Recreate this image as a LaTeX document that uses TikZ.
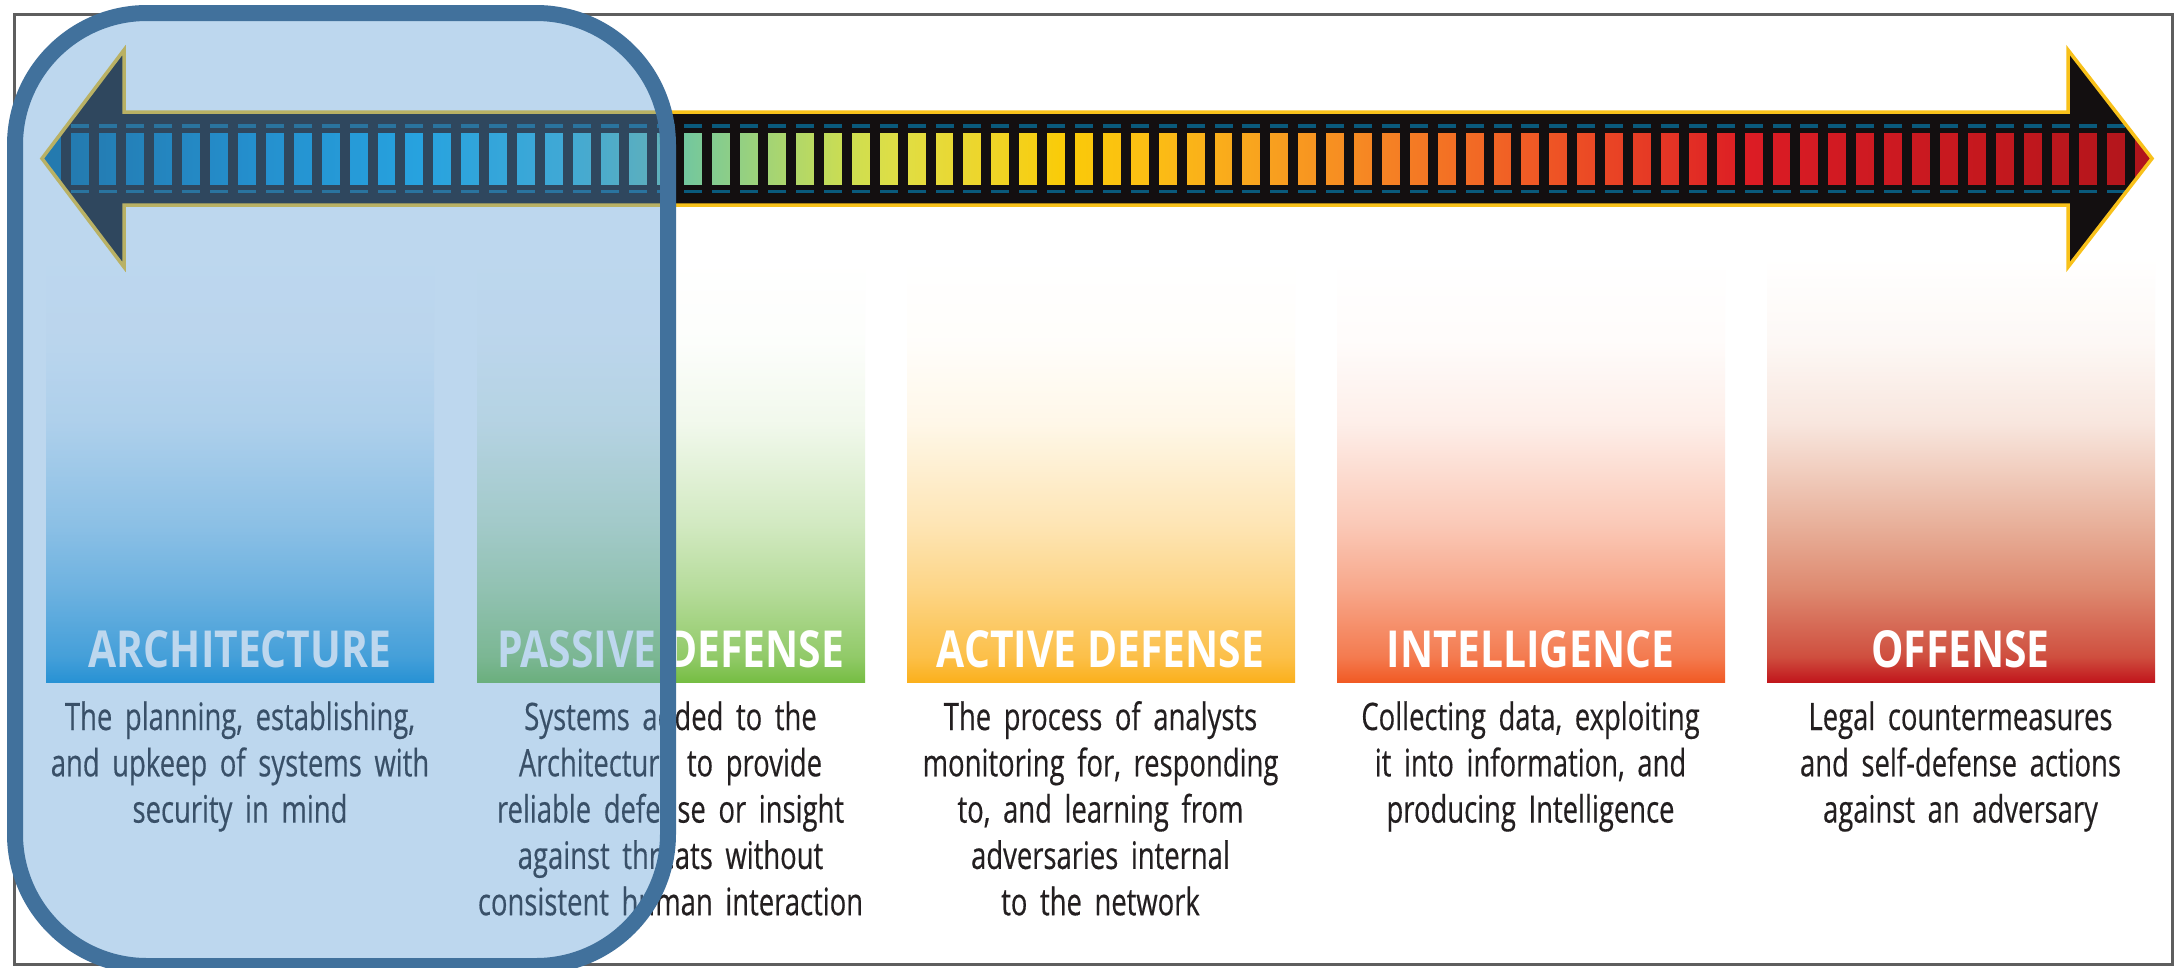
\documentclass[tikz,border=0pt]{standalone}
\usepackage{fontspec}
\newfontfamily\bodyfont{Open Sans}[FakeStretch=0.725,WordSpace=0.75,FakeBold=0.4]
\newfontfamily\headfont{Open Sans}[FakeStretch=0.8]

% general colours
\definecolor{arrowblack}{HTML}{130F10}
\definecolor{arrowgold}{HTML}{F8C11A}
\definecolor{dashblue}{HTML}{0A5A7C}
\definecolor{framegray}{HTML}{5E5E5E}
\definecolor{bodytext}{HTML}{231F20}
\definecolor{ovborder}{HTML}{41719C}
\definecolor{ovfill}{HTML}{5B9BD5}

% spectrum along the arrow
\definecolor{sp01}{RGB}{0,100,150}
\definecolor{sp02}{RGB}{0,102,152}
\definecolor{sp03}{RGB}{0,135,200}
\definecolor{sp04}{RGB}{5,168,230}
\definecolor{sp05}{RGB}{45,178,215}
\definecolor{sp06}{RGB}{90,188,178}
\definecolor{sp07}{RGB}{118,200,155}
\definecolor{sp08}{RGB}{164,212,116}
\definecolor{sp09}{RGB}{206,222,80}
\definecolor{sp10}{RGB}{224,222,68}
\definecolor{sp11}{RGB}{238,213,42}
\definecolor{sp12}{RGB}{250,203,8}
\definecolor{sp13}{RGB}{251,190,20}
\definecolor{sp14}{RGB}{249,165,30}
\definecolor{sp15}{RGB}{245,128,36}
\definecolor{sp16}{RGB}{240,90,37}
\definecolor{sp17}{RGB}{228,52,37}
\definecolor{sp18}{RGB}{220,28,36}
\definecolor{sp19}{RGB}{208,26,34}
\definecolor{sp20}{RGB}{196,24,30}
\definecolor{sp21}{RGB}{176,21,27}

\pgfdeclarehorizontalshading{spectrum}{100bp}{%
  color(0bp)=(sp01); color(25bp)=(sp01); color(25.66bp)=(sp02);
  color(29.93bp)=(sp03); color(33.95bp)=(sp04); color(37.27bp)=(sp05);
  color(39.28bp)=(sp06); color(40.35bp)=(sp07); color(42.24bp)=(sp08);
  color(44.14bp)=(sp09); color(45.32bp)=(sp10); color(47.34bp)=(sp11);
  color(49.16bp)=(sp12); color(51.24bp)=(sp13); color(53.66bp)=(sp14);
  color(56.98bp)=(sp15); color(60.27bp)=(sp16); color(63.56bp)=(sp17);
  color(65.45bp)=(sp18); color(67.82bp)=(sp19); color(71.14bp)=(sp20);
  color(75bp)=(sp21); color(100bp)=(sp21)}

% panel colours (bottom edge)
\definecolor{archB}{HTML}{058CD4}
\definecolor{passB}{HTML}{76BD43}
\definecolor{actB}{HTML}{FBB01C}
\definecolor{intB}{HTML}{F15A24}

% white-to-colour fade used by the panels
\newcommand\panelfade[2]{%
  \pgfdeclareverticalshading{#1}{100bp}{%
    color(0bp)=(#2); color(25bp)=(#2); color(28bp)=(#2!80!white);
    color(36bp)=(#2!53!white); color(43.5bp)=(#2!33!white);
    color(55.5bp)=(#2!10!white); color(65bp)=(#2!2!white);
    color(75bp)=(white); color(100bp)=(white)}}
\panelfade{archfade}{archB}
\panelfade{passfade}{passB}
\panelfade{actfade}{actB}
\panelfade{intfade}{intB}

\definecolor{of1}{HTML}{C1161C}
\definecolor{of2}{HTML}{CF4F3F}
\definecolor{of3}{HTML}{DE8A70}
\definecolor{of4}{HTML}{E8B09A}
\definecolor{of5}{HTML}{F1CEBF}
\definecolor{of6}{HTML}{F8E6DE}
\definecolor{of7}{HTML}{FDF8F5}
\pgfdeclareverticalshading{offfade}{100bp}{%
  color(0bp)=(of1); color(25bp)=(of1); color(28bp)=(of2);
  color(36bp)=(of3); color(43.5bp)=(of4); color(50bp)=(of5);
  color(55.5bp)=(of6); color(65bp)=(of7); color(75bp)=(white);
  color(100bp)=(white)}

\begin{document}
\begin{tikzpicture}[x=1pt,y=-1pt,
  frameline/.style={draw=framegray,line width=2.5},
  headlabel/.style={font=\headfont\bfseries\fontsize{51}{57}\selectfont,
    text=white,anchor=base,inner sep=0pt},
  bodylabel/.style={font=\bodyfont\fontsize{37.8}{46.3}\selectfont,
    text=bodytext,align=center,text width=430pt,anchor=base,inner sep=0pt},
  arrowshape/.style={line width=3.5,draw=arrowgold,line join=miter},
  highlight/.style={line width=16,draw=ovborder,fill=ovfill,
    fill opacity=0.4,rounded corners=132}]

\useasboundingbox (0,0) rectangle (2182,967);
\fill[white] (0,0) rectangle (2182,967);

% outer frame
\draw[frameline] (14.5,14.5) rectangle (2172.5,964.5);

% coloured panels
\foreach \px/\sh in {46/archfade,477/passfade,907/actfade,1337/intfade,1767/offfade}
  \path[shading=\sh] (\px,257) rectangle ++(388,425);

% double-headed arrow
\coordinate (tipL) at (42,158.5);
\coordinate (tipR) at (2152,158.5);
\fill[arrowblack] (tipL) -- (124,50) -- (124,112) -- (2068,112) -- (2068,50)
  -- (tipR) -- (2068,267) -- (2068,205) -- (124,205) -- (124,267) -- cycle;
\begin{scope}
  \clip (tipL) -- (124,50) -- (124,112) -- (2068,112) -- (2068,50)
    -- (tipR) -- (2068,267) -- (2068,205) -- (124,205) -- (124,267) -- cycle;
  \path[shading=spectrum] (42,133) rectangle (2153,184);
  \foreach \k in {0,...,74}
    \fill[arrowblack] ({60.6+27.9*\k},131) rectangle ++(10,55);
  \foreach \k in {0,...,73} {
    \fill[dashblue] ({70.6+27.9*\k},124.2) rectangle ++(18,3.6);
    \fill[dashblue] ({70.6+27.9*\k},189.6) rectangle ++(18,3.6);
  }
\end{scope}
\draw[arrowshape] (tipL) -- (124,50) -- (124,112) -- (2068,112) -- (2068,50)
  -- (tipR) -- (2068,267) -- (2068,205) -- (124,205) -- (124,267) -- cycle;

% panel headings
\node[headlabel] (hArch) at (240,667) {ARCHITECTURE};
\node[headlabel] (hPass) at (670.5,667) {PASSIVE DEFENSE};
\node[headlabel] (hAct)  at (1100.5,667) {ACTIVE DEFENSE};
\node[headlabel] (hInt)  at (1530.5,667) {INTELLIGENCE};
\node[headlabel] (hOff)  at (1960.5,667) {OFFENSE};

% descriptions
\node[bodylabel] (dArch) at (240,730)
  {The planning, establishing,\\and upkeep of systems with\\security in mind};
\node[bodylabel] (dPass) at (670.5,730)
  {Systems added to the\\Architecture to provide\\reliable defense or insight\\against threats without\\consistent human interaction};
\node[bodylabel] (dAct) at (1100.5,730)
  {The process of analysts\\monitoring for, responding\\to, and learning from\\adversaries internal\\to the network};
\node[bodylabel] (dInt) at (1530.5,730)
  {Collecting data, exploiting\\it into information, and\\producing Intelligence};
\node[bodylabel] (dOff) at (1960.5,730)
  {Legal countermeasures\\and self-defense actions\\against an adversary};

% highlight round the first stage
\draw[highlight] (15,13) rectangle (668,966);
\end{tikzpicture}
\end{document}
